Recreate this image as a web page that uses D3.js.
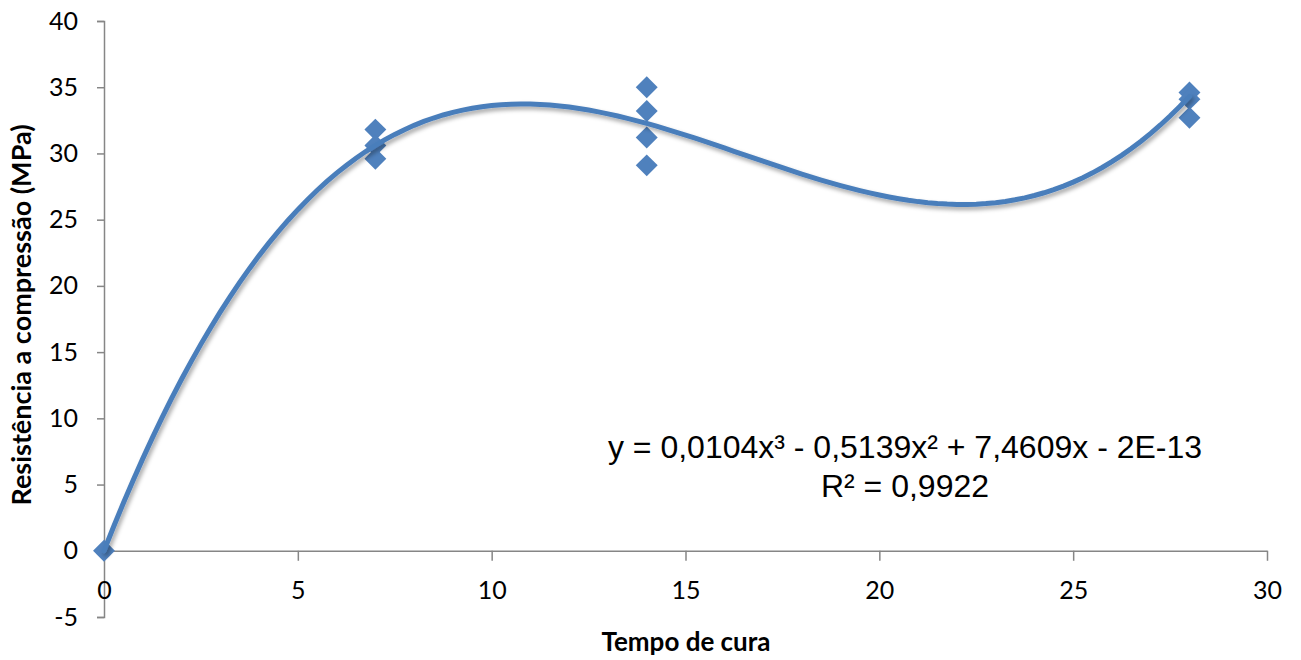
<!DOCTYPE html>
<html lang="pt">
<head>
<meta charset="UTF-8">
<title>Resistência a compressão</title>
<script src="https://d3js.org/d3.v7.min.js"></script>
<style>
  body { margin: 0; background: #fff; }
  .tick text { font-family: Lato, "Open Sans", sans-serif; font-size: 25px; fill: #000; }
</style>
</head>
<body>
<div id="my_dataviz"></div>
<script>
// dados
var tempo = [0, 7, 7, 7, 14, 14, 14, 14, 28, 28, 28];
var resistencia = [0, 31.8, 30.6, 29.6, 35.0, 33.2, 31.2, 29.1, 34.6, 34.1, 32.7];
var xTicks = [0, 5, 10, 15, 20, 25, 30];
var yTicks = [-5, 0, 5, 10, 15, 20, 25, 30, 35, 40];
// coeficientes da linha de tendência (a3, a2, a1, a0)
var coef = [0.0104, -0.5139, 7.4609, 0];
var eqLines = ["y = 0,0104x\u00B3 - 0,5139x\u00B2 + 7,4609x - 2E-13", "R\u00B2 = 0,9922"];

var W = 1301, H = 660;
var margin = { top: 21, right: 34, bottom: 43, left: 104 },
    width = W - margin.left - margin.right,
    height = H - margin.top - margin.bottom;

var svg = d3.select("#my_dataviz")
  .append("svg")
  .attr("width", W)
  .attr("height", H);

var defs = svg.append("defs");
var f = defs.append("filter").attr("id", "shadow")
  .attr("x", "-10%").attr("y", "-10%").attr("width", "120%").attr("height", "120%");
f.append("feDropShadow").attr("dx", 2).attr("dy", 3).attr("stdDeviation", 2)
  .attr("flood-color", "#000").attr("flood-opacity", 0.35);

var g = svg.append("g")
  .attr("transform", "translate(" + margin.left + "," + margin.top + ")");

var x = d3.scaleLinear().domain([0, 30]).range([0, width]);
var y = d3.scaleLinear().domain([-5, 40]).range([height, 0]);
var fmt = function(d) { return String(d); };

// eixo y
var yAxis = g.append("g")
  .call(d3.axisLeft(y).tickValues(yTicks).tickFormat(fmt).tickSize(7).tickPadding(19));
yAxis.select(".domain").attr("stroke", "#868686").attr("stroke-width", 1.5);
yAxis.selectAll(".tick line").attr("stroke", "#868686").attr("stroke-width", 1.5);

// eixo x em y = 0
var xAxis = g.append("g")
  .attr("transform", "translate(0," + y(0) + ")")
  .call(d3.axisBottom(x).tickValues(xTicks).tickFormat(fmt).tickSize(10).tickPadding(20).tickSizeOuter(0));
xAxis.select(".domain").attr("stroke", "#868686").attr("stroke-width", 1.5);
xAxis.selectAll(".tick line").attr("stroke", "#868686").attr("stroke-width", 1.5);
xAxis.selectAll(".tick").filter(function(d) { return d === 0; }).select("line").remove();

// linha de tendência polinomial
var poly = function(t) { return coef[0] * t * t * t + coef[1] * t * t + coef[2] * t + coef[3]; };
var curve = d3.range(0, 28.001, 0.25).map(function(t) { return [t, poly(t)]; });

// pontos
var sym = d3.symbol().type(d3.symbolSquare).size(240);
g.selectAll(".pt")
  .data(tempo.map(function(t, i) { return [t, resistencia[i]]; }))
  .enter()
  .append("path")
  .attr("class", "pt")
  .attr("d", sym)
  .attr("transform", function(d) { return "translate(" + x(d[0]) + "," + y(d[1]) + ") rotate(45)"; })
  .attr("fill", "#4f81bd");

g.append("path")
  .datum(curve)
  .attr("fill", "none")
  .attr("stroke", "#4a7ebb")
  .attr("stroke-width", 5)
  .attr("stroke-linecap", "round")
  .attr("filter", "url(#shadow)")
  .attr("d", d3.line().x(function(d) { return x(d[0]); }).y(function(d) { return y(d[1]); }));

// equação
g.selectAll(".eq")
  .data(eqLines)
  .enter()
  .append("text")
  .attr("x", 801)
  .attr("y", function(d, i) { return 437 + i * 39; })
  .attr("text-anchor", "middle")
  .style("font-family", "'Liberation Sans', Arial, sans-serif")
  .style("font-size", "32px")
  .text(function(d) { return d; });

// títulos dos eixos
svg.append("text")
  .attr("x", 686)
  .attr("y", 651)
  .attr("text-anchor", "middle")
  .style("font-family", "Lato, 'Open Sans', sans-serif")
  .style("font-weight", "bold")
  .style("font-size", "26px")
  .text("Tempo de cura");

svg.append("text")
  .attr("transform", "translate(31,315) rotate(-90)")
  .attr("text-anchor", "middle")
  .style("font-family", "Lato, 'Open Sans', sans-serif")
  .style("font-weight", "bold")
  .style("font-size", "27px")
  .text("Resistência a compressão (MPa)");
</script>
</body>
</html>
